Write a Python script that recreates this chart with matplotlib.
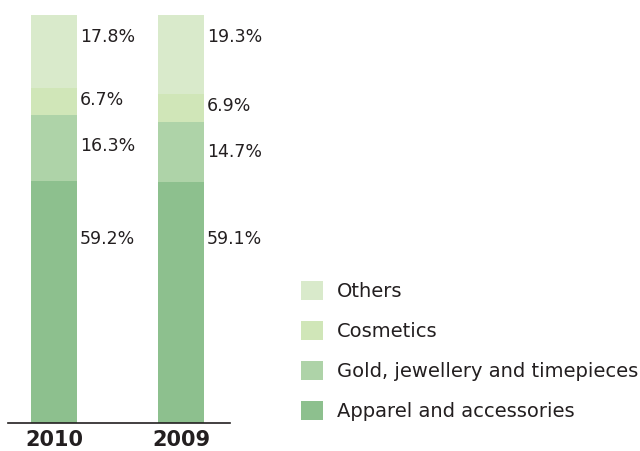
import matplotlib.pyplot as plt
from matplotlib.patches import Patch

# data
years = ['2010', '2009']
categories = ['Apparel and accessories', 'Gold, jewellery and timepieces', 'Cosmetics', 'Others']
shares = {
    '2010': [59.2, 16.3, 6.7, 17.8],
    '2009': [59.1, 14.7, 6.9, 19.3],
}
colors = ['#8dc08e', '#aed3a8', '#d0e6b8', '#d9eacb']
# how far below the top of each segment its label sits (in %)
label_drop = [14.0, 7.5, 3.0, 5.5]

txt = '#231f20'
plt.rcParams['font.family'] = 'DejaVu Sans'

fig = plt.figure(figsize=(6.4, 4.51), dpi=100)
W, H = 640, 451
ax = fig.add_axes([8 / W, (H - 423) / H, 222 / W, 408 / H])

bar_w = 46 / 127
for i, yr in enumerate(years):
    bottom = 0
    for j, val in enumerate(shares[yr]):
        ax.bar(i, val, bottom=bottom, width=bar_w, color=colors[j], linewidth=0)
        bottom += val
        ax.annotate(f'{val:.1f}%', xy=(i + bar_w / 2, bottom - label_drop[j]),
                    xytext=(2, 0), textcoords='offset points',
                    ha='left', va='center', fontsize=12.5, color=txt)

ax.set_xlim(-46 / 127, -46 / 127 + 222 / 127)
ax.set_ylim(0, 100)
for s in ['top', 'right', 'left']:
    ax.spines[s].set_visible(False)
ax.spines['bottom'].set_color('#231f20')
ax.spines['bottom'].set_linewidth(1.2)
ax.set_yticks([])
ax.set_xticks(range(len(years)))
ax.set_xticklabels(years, fontsize=15, fontweight='bold', color=txt)
ax.tick_params(axis='x', length=0, pad=5)

handles = [Patch(facecolor=colors[j], edgecolor='none', label=categories[j]) for j in range(3, -1, -1)]
fig.legend(handles=handles, loc='upper left', bbox_to_anchor=(301 / W, 1 - 281 / H),
           frameon=False, fontsize=14, handlelength=1.13, handleheight=1.13,
           handletextpad=0.72, labelspacing=1.02, borderpad=0, borderaxespad=0,
           labelcolor=txt)

fig.savefig('out.png', dpi=100)
